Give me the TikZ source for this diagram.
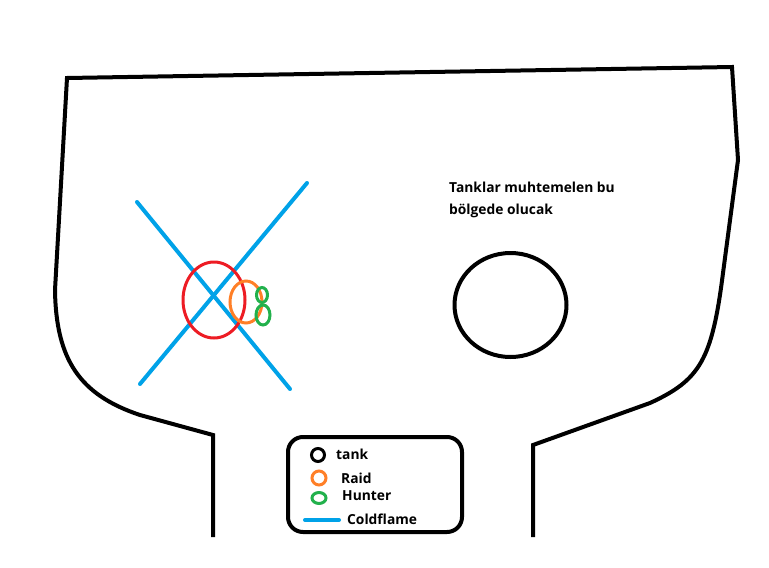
\documentclass[tikz,border=0pt]{standalone}
\usepackage{fontspec}
\setmainfont{Open Sans}
\usetikzlibrary{calc}

\begin{document}
\begin{tikzpicture}[x=1pt, y=-1pt]
    \definecolor{borderColour}{HTML}{000000}
    \definecolor{flameColour}{HTML}{00A2E8}
    \definecolor{bossColour}{HTML}{ED1C24}
    \definecolor{raidColour}{HTML}{FF7F27}
    \definecolor{hunterColour}{HTML}{22B14C}

    \tikzset{
        wall/.style={draw=borderColour, line width=4pt, line join=miter},
        flame/.style={draw=flameColour, line width=4pt, line cap=round},
        ring/.style={line width=3pt},
        label/.style={font=\bfseries\fontsize{13.8}{22}\selectfont, inner sep=0pt}
    }

    % Fix the page size
    \useasboundingbox (0,0) rectangle (769,568);

    % Define coordinates for the room outline
    \coordinate (doorL) at (213,537);
    \coordinate (neckL) at (213,435);
    \coordinate (hipL) at (140,415);
    \coordinate (sideL) at (55,290);
    \coordinate (topL) at (67,78);
    \coordinate (topR) at (732,67);
    \coordinate (bendR) at (738,160);
    \coordinate (sideR) at (723,273);
    \coordinate (hipR) at (650,403);
    \coordinate (neckR) at (533,445);
    \coordinate (doorR) at (533,537);

    % Draw the room outline
    \draw[wall] (doorL) -- (neckL) -- (hipL)
        .. controls (80,395) and (56,360) .. (sideL) -- (topL) -- (topR)
        -- (bendR) -- (sideR) .. controls (712,360) and (700,380) .. (hipR)
        -- (neckR) -- (doorR);

    % Draw the cold flame cross
    \coordinate (flameA) at (137,202);
    \coordinate (flameB) at (290,389);
    \coordinate (flameC) at (140,384);
    \coordinate (flameD) at (307,183);
    \draw[flame] (flameA) -- (flameB);
    \draw[flame] (flameC) -- (flameD);

    % Draw the positions
    \draw[ring, bossColour] (214,300) ellipse (31 and 38);
    \draw[ring, raidColour] (246,302) ellipse (16 and 21);
    \draw[ring, hunterColour] (262,295) ellipse (5.5 and 7.5);
    \draw[ring, hunterColour] (263,315) ellipse (7 and 10);

    % Draw the tank area
    \draw[ring, line width=4pt, borderColour] (510.5,305) ellipse (56 and 52);
    \node[label, anchor=north west, align=left] (note) at (449,182)
        {Tanklar muhtemelen bu\\bölgede olucak};

    % Draw the legend
    \draw[borderColour, line width=4pt, rounded corners=15pt] (288,437) rectangle (462,532);
    \draw[ring, borderColour] (318,455) circle (6.5);
    \draw[ring, raidColour] (319,478) circle (7);
    \draw[ring, hunterColour] (319,498) ellipse (7 and 5.5);
    \coordinate (keyA) at (305,520);
    \coordinate (keyB) at (339,520);
    \draw[flame] (keyA) -- (keyB);
    \node[label, anchor=west] (tankKey) at (336,454) {tank};
    \node[label, anchor=west] (raidKey) at (341,478) {Raid};
    \node[label, anchor=west] (hunterKey) at (342,496) {Hunter};
    \node[label, anchor=west] (flameKey) at (347,519) {Coldflame};
\end{tikzpicture}
\end{document}
